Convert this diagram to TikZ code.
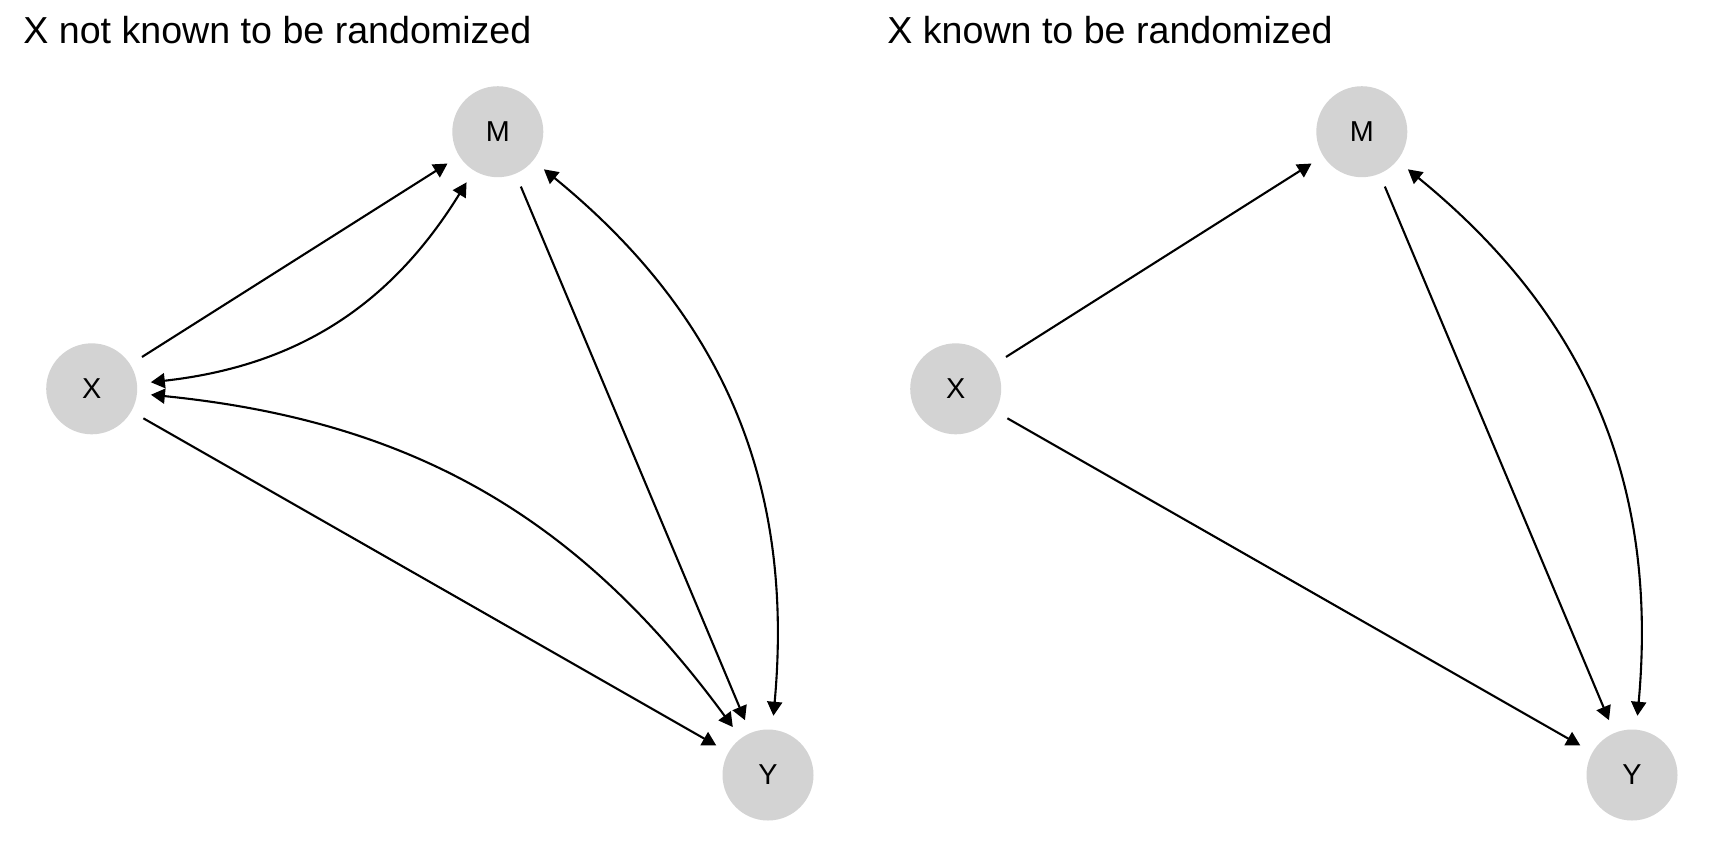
\documentclass[tikz,border=0pt]{standalone}
\usepackage{fontspec}
\setmainfont{Liberation Sans}
\usetikzlibrary{arrows.meta}
\begin{document}
\begin{tikzpicture}[x=0.5pt,y=-0.5pt,
  dagnode/.style={circle,fill={rgb,255:red,211;green,211;blue,211},draw=none,
    minimum size=45.5pt,inner sep=0pt,outer sep=7pt,font=\fontsize{14.4}{16}\selectfont},
  titletext/.style={anchor=base west,inner sep=0pt,font=\fontsize{18.8}{22}\selectfont},
  edge/.style={line width=1.05pt,-{Triangle[length=7pt,width=7.5pt]}},
  biedge/.style={line width=1.05pt,{Triangle[length=7pt,width=7.5pt]}-{Triangle[length=7pt,width=7.5pt]}}]
\useasboundingbox (0,0) rectangle (1728,864);
% left panel
\node[titletext] (t1) at (23,43.5) {X not known to be randomized};
\node[dagnode] (X1) at (91.7,388.8) {X};
\node[dagnode] (M1) at (497.8,131.7) {M};
\node[dagnode] (Y1) at (768,775) {Y};
\draw[edge] (X1) -- (M1);
\draw[edge] (X1) -- (Y1);
\draw[edge] (M1) -- (Y1);
\draw[biedge] (X1) to[bend right=26] (M1);
\draw[biedge] (X1) to[bend left=24] (Y1);
\draw[biedge] (M1) to[bend left=28] (Y1);
% right panel
\node[titletext] (t2) at (887,43.5) {X known to be randomized};
\node[dagnode] (X2) at (955.7,388.8) {X};
\node[dagnode] (M2) at (1361.8,131.7) {M};
\node[dagnode] (Y2) at (1632,775) {Y};
\draw[edge] (X2) -- (M2);
\draw[edge] (X2) -- (Y2);
\draw[edge] (M2) -- (Y2);
\draw[biedge] (M2) to[bend left=28] (Y2);
\end{tikzpicture}
\end{document}
